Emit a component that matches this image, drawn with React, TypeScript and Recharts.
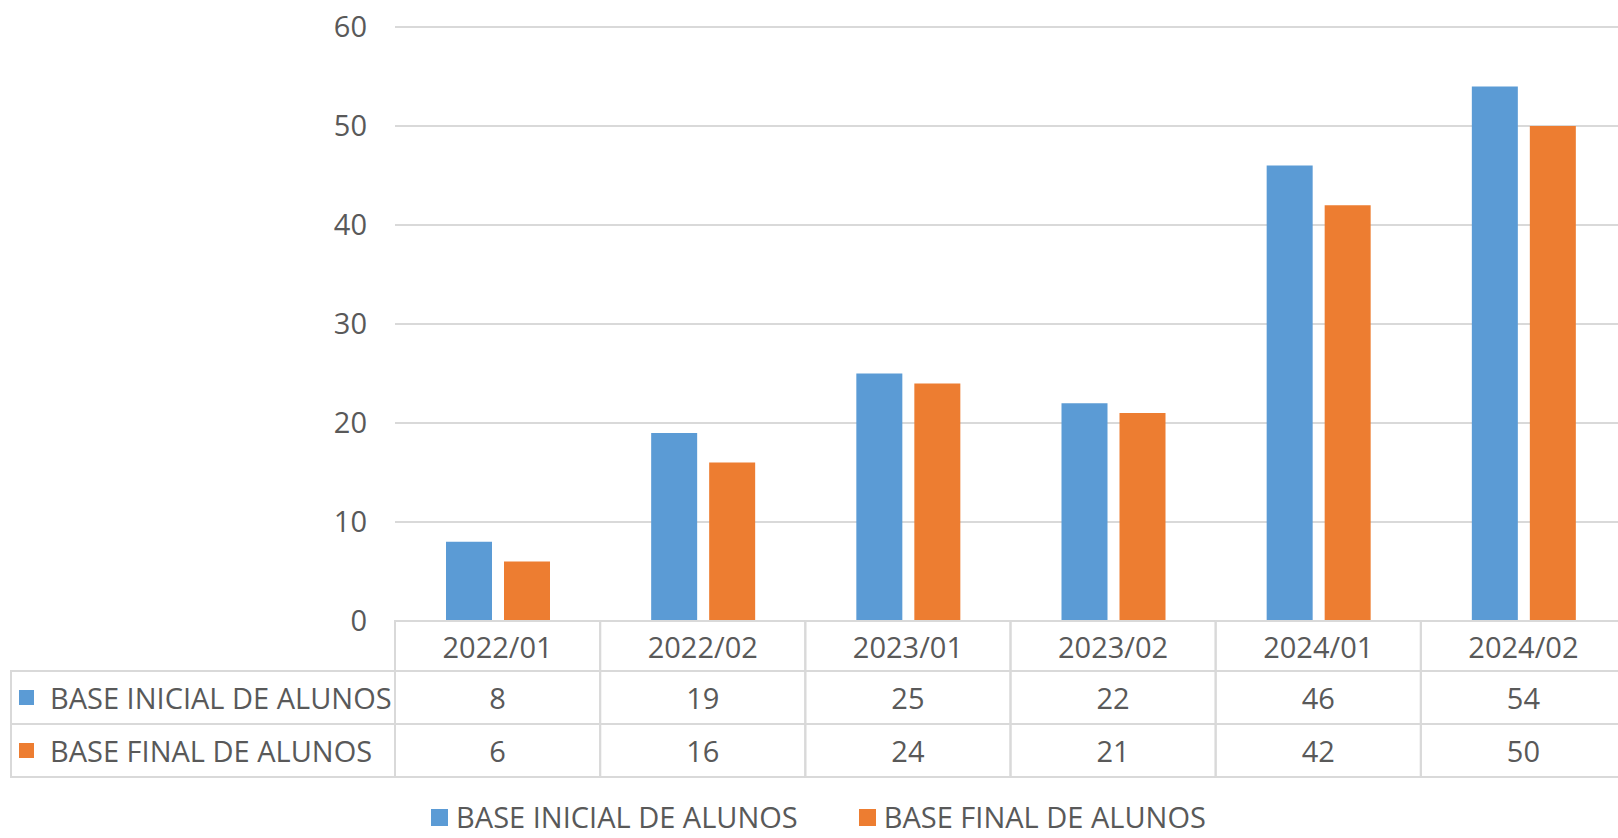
import React from "react"
import { BarChart, Bar, XAxis, YAxis, CartesianGrid } from "recharts"

const categories = ["2022/01", "2022/02", "2023/01", "2023/02", "2024/01", "2024/02"]
const baseInicial = [8, 19, 25, 22, 46, 54]
const baseFinal = [6, 16, 24, 21, 42, 50]
const seriesNames = ["BASE INICIAL DE ALUNOS", "BASE FINAL DE ALUNOS"]
const seriesColors = ["#5B9BD5", "#ED7D31"]
const yTicks = [0, 10, 20, 30, 40, 50, 60]

const data = categories.map((c, i) => ({
  period: c,
  inicial: baseInicial[i],
  final: baseFinal[i],
}))

const FONT = "'Open Sans', 'Noto Sans', sans-serif"
const TEXT = "#595959"
const GRID = "#D9D9D9"

const CHART_W = 1626
const CHART_H = 838
const MARGIN = { top: 27, right: 0, bottom: 56, left: 335 }
const Y_W = 60
const BAND = (CHART_W - MARGIN.left - Y_W - MARGIN.right) / categories.length
const ROWS = [50, 53, 53]
const TABLE_LEFT = 11
const FS = 29

function TableTick(props: any) {
  const { x, y, payload } = props
  const i = categories.indexOf(payload.value)
  const left = x - BAND / 2
  const right = x + BAND / 2
  const y1 = y + ROWS[0]
  const y2 = y1 + ROWS[1]
  const y3 = y2 + ROWS[2]
  const values = [baseInicial[i], baseFinal[i]]
  const rowMid = [y + ROWS[0] / 2, y1 + ROWS[1] / 2, y2 + ROWS[2] / 2]
  const line = { stroke: GRID, strokeWidth: 2, strokeLinecap: "square" as const }
  return (
    <g>
      <line x1={left} y1={y} x2={left} y2={y3} {...line} />
      <line x1={right} y1={y} x2={right} y2={y3} {...line} />
      <line x1={i === 0 ? TABLE_LEFT : left} y1={y1} x2={right} y2={y1} {...line} />
      <line x1={i === 0 ? TABLE_LEFT : left} y1={y2} x2={right} y2={y2} {...line} />
      <line x1={i === 0 ? TABLE_LEFT : left} y1={y3} x2={right} y2={y3} {...line} />
      {i === 0 && <line x1={TABLE_LEFT} y1={y1} x2={TABLE_LEFT} y2={y3} {...line} />}
      <text x={x} y={rowMid[0]} textAnchor="middle" dominantBaseline="central"
        fill={TEXT} fontSize={FS} fontFamily={FONT}>
        {payload.value}
      </text>
      {values.map((v, k) => (
        <text key={k} x={x} y={rowMid[k + 1]} textAnchor="middle" dominantBaseline="central"
          fill={TEXT} fontSize={FS} fontFamily={FONT}>
          {v}
        </text>
      ))}
      {i === 0 &&
        seriesNames.map((n, k) => (
          <g key={n}>
            <rect x={19} y={rowMid[k + 1] - 7.5} width={15} height={15} fill={seriesColors[k]} />
            <text x={50} y={rowMid[k + 1]} dominantBaseline="central"
              fill={TEXT} fontSize={FS} fontFamily={FONT}>
              {n}
            </text>
          </g>
        ))}
    </g>
  )
}

export default function App() {
  return (
    <div style={{ position: "fixed", left: 0, top: 0, width: 1618, height: 838, overflow: "hidden", background: "#fff" }}>
      <BarChart
        width={CHART_W}
        height={CHART_H}
        data={data}
        margin={MARGIN}
        barSize={46}
        barGap={12}
      >
        <CartesianGrid vertical={false} stroke={GRID} strokeWidth={2} />
        <XAxis
          dataKey="period"
          height={161}
          tickLine={false}
          tickSize={0}
          tickMargin={0}
          axisLine={{ stroke: GRID, strokeWidth: 2 }}
          tick={<TableTick />}
          interval={0}
        />
        <YAxis
          width={Y_W}
          domain={[0, 60]}
          ticks={yTicks}
          axisLine={false}
          tickLine={false}
          tickSize={0}
          tickMargin={28}
          tick={{ fill: TEXT, fontSize: FS, fontFamily: FONT }}
        />
        <Bar dataKey="inicial" name={seriesNames[0]} fill={seriesColors[0]} isAnimationActive={false} />
        <Bar dataKey="final" name={seriesNames[1]} fill={seriesColors[1]} isAnimationActive={false} />
      </BarChart>
      <div
        style={{
          position: "absolute",
          left: TABLE_LEFT,
          width: CHART_W - TABLE_LEFT,
          top: 804,
          height: 26,
          display: "flex",
          justifyContent: "center",
          alignItems: "center",
          gap: 61,
          fontFamily: FONT,
          fontSize: FS,
          color: TEXT,
          lineHeight: "26px",
        }}
      >
        {seriesNames.map((n, k) => (
          <div key={n} style={{ display: "flex", alignItems: "center" }}>
            <span style={{ display: "inline-block", width: 17, height: 17, background: seriesColors[k], marginRight: 8 }} />
            <span>{n}</span>
          </div>
        ))}
      </div>
    </div>
  )
}
